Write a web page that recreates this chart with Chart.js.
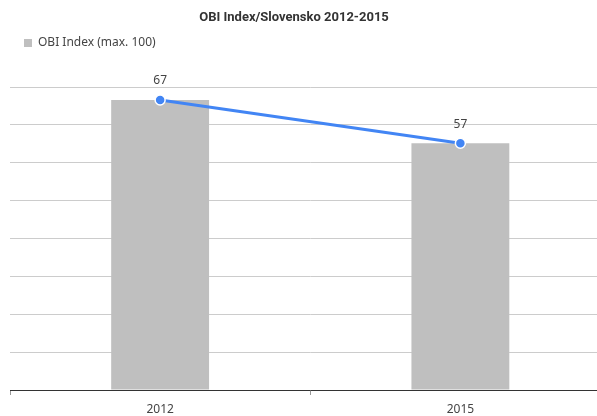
<!DOCTYPE html>
<html>
<head>
<meta charset="utf-8">
<script src="https://cdn.jsdelivr.net/npm/chart.js@4.4.1/dist/chart.umd.min.js"></script>
<style>
  html, body { margin: 0; padding: 0; background: #fff; overflow: hidden; }
  #wrap { width: 597px; height: 416px; overflow: hidden; }
</style>
</head>
<body>
<div id="wrap"><canvas id="chart" width="617" height="416"></canvas></div>
<script>
const chartTitle = 'OBI Index/Slovensko 2012-2015';
const seriesLabel = 'OBI Index (max. 100)';
const years = ['2012', '2015'];
const obiIndex = [67, 57];
const yMax = 70;
const yStep = 8.75;

const FONT = '"Noto Sans", "Open Sans", sans-serif';
const TITLE_FONT = 'Roboto, "Noto Sans", sans-serif';

// title drawn by hand: the original is cropped, so it sits left of canvas centre
const titlePlugin = {
  id: 'plainTitle',
  afterDraw(chart) {
    const {ctx} = chart;
    ctx.save();
    ctx.font = 'bold 13px ' + TITLE_FONT;
    ctx.fillStyle = '#333';
    ctx.textAlign = 'center';
    ctx.textBaseline = 'middle';
    ctx.fillText(chartTitle, 294, 18);
    ctx.restore();
  }
};

// value labels above the line points
const valueLabels = {
  id: 'valueLabels',
  afterDatasetsDraw(chart) {
    const {ctx} = chart;
    const meta = chart.getDatasetMeta(0);
    ctx.save();
    ctx.font = '12px ' + FONT;
    ctx.fillStyle = '#444';
    ctx.textAlign = 'center';
    ctx.textBaseline = 'middle';
    meta.data.forEach((pt, i) => {
      ctx.fillText(String(chart.data.datasets[0].data[i]), pt.x, pt.y - 19);
    });
    ctx.restore();
  }
};

new Chart(document.getElementById('chart'), {
  data: {
    labels: years,
    datasets: [{
      type: 'line',
      label: seriesLabel,
      data: obiIndex,
      borderColor: '#4285f4',
      borderWidth: 3,
      pointRadius: 5,
      pointHoverRadius: 5,
      pointBackgroundColor: '#4285f4',
      pointBorderColor: '#fff',
      pointBorderWidth: 1.5,
      order: 0,
    }, {
      type: 'bar',
      label: seriesLabel,
      data: obiIndex,
      backgroundColor: '#bfbfbf',
      barPercentage: 0.326,
      categoryPercentage: 1,
      order: 1,
    }],
  },
  options: {
    responsive: false,
    animation: false,
    layout: {padding: {top: 23, left: 10, right: 1, bottom: 0}},
    plugins: {
      title: {display: false},
      tooltip: {enabled: false},
      legend: {
        position: 'top',
        align: 'start',
        labels: {
          boxWidth: 8,
          boxHeight: 8,
          padding: 14,
          color: '#444',
          font: {size: 12, family: FONT},
          filter: item => item.datasetIndex === 1,
        },
      },
    },
    scales: {
      x: {
        type: 'category',
        offset: true,
        grid: {offset: true, drawOnChartArea: false, tickLength: 5, color: '#999'},
        border: {color: '#333', width: 1},
        ticks: {color: '#444', font: {size: 12, family: FONT}, padding: 7},
        afterFit(s) { s.height = 26; },
      },
      // empty top axis, only keeps the gap between legend and plot
      xTop: {
        type: 'category',
        position: 'top',
        grid: {display: false},
        border: {display: false},
        ticks: {display: false},
        afterFit(s) { s.height = 28; },
      },
      y: {
        min: 0,
        max: yMax,
        ticks: {display: false, stepSize: yStep},
        grid: {color: '#ccc', drawTicks: false},
        border: {display: false},
      },
    },
  },
  plugins: [titlePlugin, valueLabels],
});
</script>
</body>
</html>
